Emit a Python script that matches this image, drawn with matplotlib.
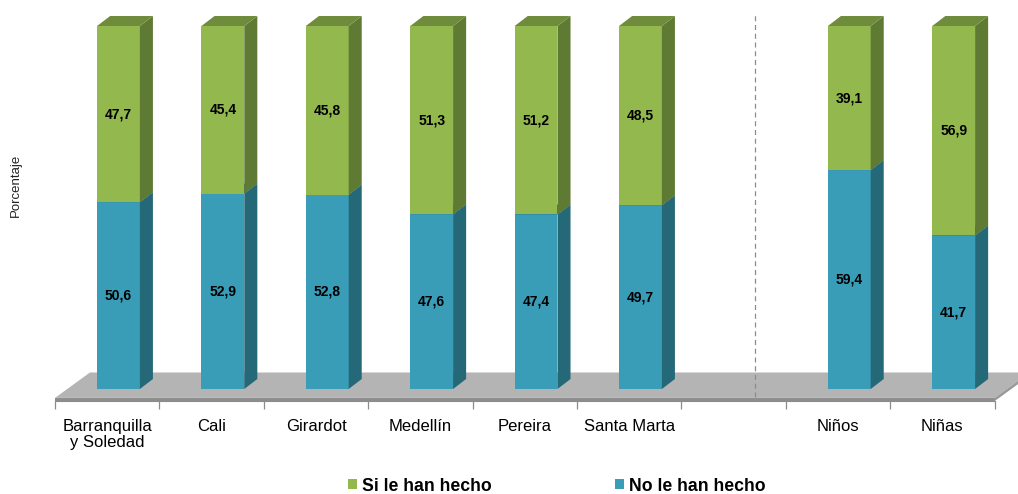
import numpy as np
import matplotlib.pyplot as plt
from matplotlib.patches import Polygon, Patch

plt.rcParams['font.family'] = ['Liberation Sans', 'DejaVu Sans']

# datos
categorias = ['Barranquilla\ny Soledad', 'Cali', 'Girardot', 'Medellín', 'Pereira',
              'Santa Marta', '', 'Niños', 'Niñas']
no_hecho = [50.6, 52.9, 52.8, 47.6, 47.4, 49.7, None, 59.4, 41.7]
si_hecho = [47.7, 45.4, 45.8, 51.3, 51.2, 48.5, None, 39.1, 56.9]

# colores (frente, lado, tapa)
verde = ('#93B84E', '#5F7A33', '#6E8C3C')
azul = ('#3A9DB8', '#256878', '#2C7D92')

W, H = 1018, 494
fig = plt.figure(figsize=(W / 100, H / 100), dpi=100)

slot = 104.4      # px por categoria
x0px = 55         # borde izquierdo del eje
ppu = 3.63        # px por unidad de %
y0px = 389        # pixel del 0
ax_bot, ax_top = 410, 0
ax = fig.add_axes([0, (H - ax_bot) / H, 1, (ax_bot - ax_top) / H])
ax.set_xlim(-x0px / slot, (W - x0px) / slot)
ax.set_ylim(-(ax_bot - y0px) / ppu, (y0px - ax_top) / ppu)

bw = 0.41          # ancho frontal
bc = 0.608         # centro dentro del slot
dx, dy = 0.125, 2.75  # profundidad

# piso gris
fy = -2.45
fdx, fdy = 0.335, 7.0
n = len(categorias)
ax.add_patch(Polygon([(0, fy), (n, fy), (n + fdx, fy + fdy), (fdx, fy + fdy)],
                     closed=True, fc='#B4B4B4', ec='none', zorder=1))
ax.add_patch(Polygon([(0, fy - 0.9), (n, fy - 0.9), (n, fy), (0, fy)],
                     closed=True, fc='#8E8E8E', ec='none', zorder=1))
ax.add_patch(Polygon([(n, fy - 0.9), (n, fy), (n + fdx, fy + fdy), (n + fdx, fy + fdy - 0.9)],
                     closed=True, fc='#9A9A9A', ec='none', zorder=1))


def caja(xl, yb, h, cols):
    xr = xl + bw
    yt = yb + h
    ax.add_patch(Polygon([(xl, yb), (xr, yb), (xr, yt), (xl, yt)], closed=True,
                         fc=cols[0], ec='none', zorder=3))
    ax.add_patch(Polygon([(xr, yb), (xr + dx, yb + dy), (xr + dx, yt + dy), (xr, yt)],
                         closed=True, fc=cols[1], ec='none', zorder=3))
    ax.add_patch(Polygon([(xl, yt), (xr, yt), (xr + dx, yt + dy), (xl + dx, yt + dy)],
                         closed=True, fc=cols[2], ec='none', zorder=3))


for i, (a, b) in enumerate(zip(no_hecho, si_hecho)):
    if a is None:
        continue
    # barras apiladas al 100 %
    tot = a + b
    pa, pb = a / tot * 100, b / tot * 100
    xl = i + bc - bw / 2
    caja(xl, 0, pa, azul)
    caja(xl, pa, pb, verde)
    ax.text(i + bc, pa / 2, f'{a:.1f}'.replace('.', ','), ha='center', va='center',
            fontsize=10, fontweight='bold', zorder=5)
    ax.text(i + bc, pa + pb / 2, f'{b:.1f}'.replace('.', ','), ha='center', va='center',
            fontsize=10, fontweight='bold', zorder=5)

# linea divisoria
ax.plot([6.705, 6.705], [fy + 0.3, 103], ls=(0, (4, 3)), color='#8C8C8C', lw=0.9, zorder=2)

# eje x
for s in ['top', 'right', 'left']:
    ax.spines[s].set_visible(False)
ax.spines['bottom'].set_position(('data', fy - 0.9))
ax.spines['bottom'].set_bounds(0, n)
ax.spines['bottom'].set_color('#8C8C8C')
ax.spines['bottom'].set_zorder(2)
ax.set_xticks(np.arange(n + 1))
ax.set_xticklabels([])
ax.tick_params(axis='x', which='major', length=6, color='#8C8C8C', width=0.9)
ax.set_xticks(np.arange(n) + 0.5, minor=True)
ax.set_xticklabels(categorias, minor=True, fontsize=12, linespacing=1.05)
ax.tick_params(axis='x', which='minor', length=0, pad=13)
ax.set_yticks([])

fig.text(16 / W, 1 - 185 / H, 'Porcentaje', rotation=90, ha='center', va='center',
         fontsize=9.5, color='#222222')

handles = [Patch(fc=verde[0], ec='none', label='Si le han hecho'),
           Patch(fc=azul[0], ec='none', label='No le han hecho')]
fig.legend(handles=handles, loc='center', bbox_to_anchor=(557 / W, 1 - 486 / H), ncol=2,
           frameon=False, prop={'weight': 'bold', 'size': 12.7}, handlelength=0.5,
           handleheight=0.5, handletextpad=0.3, columnspacing=7.0)

fig.savefig('out.png', dpi=100)
